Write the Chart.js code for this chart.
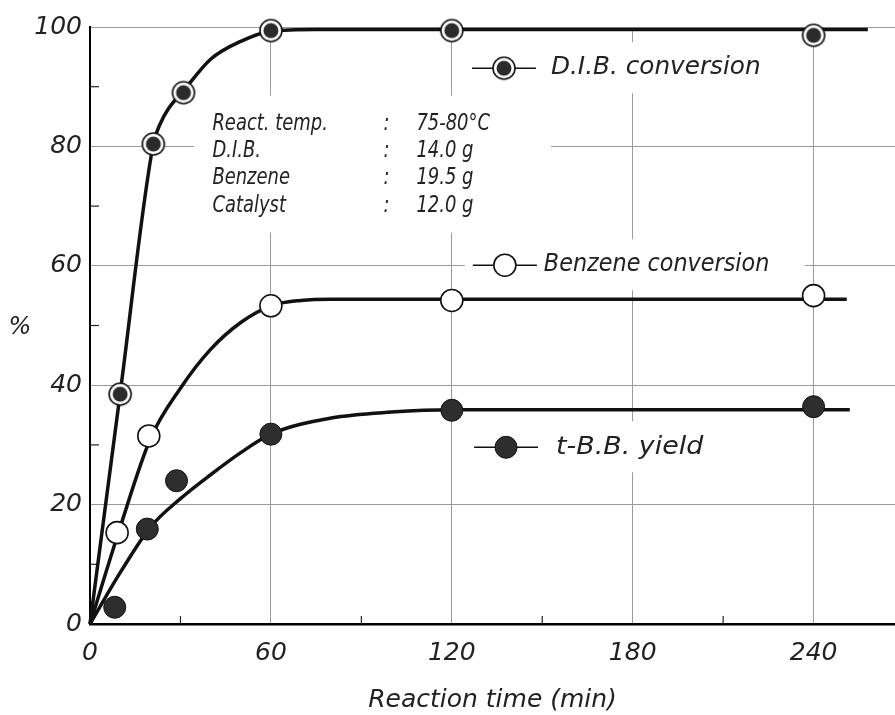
<!DOCTYPE html>
<html>
<head>
<meta charset="utf-8">
<script src="https://cdn.jsdelivr.net/npm/chart.js@4"></script>
<style>
  html, body { margin: 0; padding: 0; background: #fff; overflow: hidden; }
  #wrap { width: 895px; height: 715px; }
  canvas { display: block; }
</style>
</head>
<body>
<div id="wrap"><canvas id="rxnChart"></canvas></div>
<script>
// measured points (time in min, %)
const dibTime = [10, 21, 31, 60, 120, 240];
const dibConv = [38.5, 80.4, 89, 99.4, 99.4, 98.6];
const benTime = [9, 19.5, 60, 120, 240];
const benConv = [15.3, 31.5, 53.3, 54.2, 55];
const tbbTime = [8.2, 19, 28.7, 60, 120, 240];
const tbbYield = [2.8, 15.9, 24, 31.8, 35.8, 36.4];

// hand-drawn fitted curves
const dibCurveT = [0, 10, 21, 23.5, 26, 31, 40, 50, 60, 75, 258];
const dibCurveV = [0, 38.6, 80.4, 84, 86.3, 89.3, 94.6, 97.6, 99.3, 99.6, 99.6];
const benCurveT = [0, 10, 20, 30, 40, 50, 60, 70, 80, 251];
const benCurveV = [0, 16.2, 31, 39.5, 46, 50.5, 53.3, 54.2, 54.4, 54.4];
const tbbCurveT = [0, 10, 20, 30, 40, 50, 60, 80, 100, 120, 252];
const tbbCurveV = [0, 8.6, 16.2, 21, 25, 28.7, 31.8, 34.5, 35.5, 35.9, 35.9];

const xTicks = [0, 60, 120, 180, 240];
const yTicks = [0, 20, 40, 60, 80, 100];
const xMinor = [30, 90, 150, 210];
const yMinor = [10, 30, 50, 70, 90];

const seriesNames = ['D.I.B. conversion', 'Benzene conversion', 't-B.B. yield'];
const notes = [
  ['React. temp.', ':', '75-80°C'],
  ['D.I.B.', ':', '14.0 g'],
  ['Benzene', ':', '19.5 g'],
  ['Catalyst', ':', '12.0 g']
];

const FONT = "'DejaVu Sans', 'Liberation Sans', sans-serif";
const INK = '#222';

function pts(xs, ys) { return xs.map((x, i) => ({ x: x, y: ys[i] })); }

// double ring marker for D.I.B.
function ringMarker() {
  const c = document.createElement('canvas');
  c.width = c.height = 26;
  const g = c.getContext('2d');
  g.beginPath(); g.arc(13, 13, 11, 0, 2 * Math.PI);
  g.fillStyle = '#fff'; g.fill();
  g.lineWidth = 1.6; g.strokeStyle = '#111'; g.stroke();
  g.beginPath(); g.arc(13, 13, 7.5, 0, 2 * Math.PI);
  g.fillStyle = '#2b2b2b'; g.fill();
  return c;
}
const ring = ringMarker();

function drawMark(ctx, kind, x, y) {
  if (kind === 0) { ctx.drawImage(ring, x - 13, y - 13); return; }
  ctx.beginPath(); ctx.arc(x, y, 11, 0, 2 * Math.PI);
  ctx.fillStyle = kind === 1 ? '#fff' : '#2e2e2e';
  ctx.fill();
  ctx.lineWidth = kind === 1 ? 1.6 : 1;
  ctx.strokeStyle = '#111';
  ctx.stroke();
}

// where the in-plot legend / notes sit (data units)
const legendAt = [[137.3, 93.1], [137.6, 60.1], [138, 29.6]];
const notesAt = [40.6, 83.8];

const figureBits = {
  id: 'figureBits',
  beforeDatasetsDraw(chart) {
    const { ctx, scales: { x, y } } = chart;
    ctx.save();
    // white patches where the grid is broken by lettering
    ctx.fillStyle = '#fff';
    ctx.fillRect(x.getPixelForValue(34.5), y.getPixelForValue(88.5), 357, 137);
    legendAt.forEach((p, i) => {
      const w = [315, 340, 250][i];
      ctx.fillRect(x.getPixelForValue(p[0]) - 40, y.getPixelForValue(p[1]) - 26, w, 51);
    });
    // minor ticks
    ctx.strokeStyle = '#222';
    ctx.lineWidth = 1.2;
    xMinor.forEach(v => {
      const px = x.getPixelForValue(v);
      ctx.beginPath(); ctx.moveTo(px, y.bottom); ctx.lineTo(px, y.bottom - 8); ctx.stroke();
    });
    yMinor.forEach(v => {
      const py = y.getPixelForValue(v);
      ctx.beginPath(); ctx.moveTo(x.left, py); ctx.lineTo(x.left + 9, py); ctx.stroke();
    });
    ctx.restore();
  },
  afterDatasetsDraw(chart) {
    const { ctx, scales: { x, y } } = chart;
    ctx.save();
    ctx.fillStyle = INK;
    ctx.textBaseline = 'middle';
    // legend entries
    const stretch = [1.03, 0.93, 1.12];
    legendAt.forEach((p, i) => {
      const cx = x.getPixelForValue(p[0]);
      const cy = y.getPixelForValue(p[1]);
      ctx.strokeStyle = '#111'; ctx.lineWidth = 1.6;
      ctx.beginPath(); ctx.moveTo(cx - 32, cy); ctx.lineTo(cx + 32, cy); ctx.stroke();
      drawMark(ctx, i, cx, cy);
      ctx.fillStyle = INK;
      ctx.font = `italic 200 24px ${FONT}`;
      ctx.save();
      ctx.translate(cx + [47, 39, 50][i], cy);
      ctx.scale(stretch[i], 1);
      ctx.fillText(seriesNames[i], 0, 0);
      ctx.restore();
    });
    // reaction conditions
    const nx = x.getPixelForValue(notesAt[0]);
    const ny = y.getPixelForValue(notesAt[1]);
    ctx.font = `italic 200 23px ${FONT}`;
    notes.forEach((row, i) => {
      const ry = ny + i * 27.3;
      [[row[0], 0], [row[1], 171], [row[2], 204]].forEach(([t, dx]) => {
        ctx.save();
        ctx.translate(nx + dx, ry);
        ctx.scale(0.78, 1);
        ctx.fillText(t, 0, 0);
        ctx.restore();
      });
    });
    // y axis title, upright
    ctx.font = `italic 200 24px ${FONT}`;
    ctx.textAlign = 'center';
    ctx.fillText('%', x.left - 70, y.getPixelForValue(49.6));
    ctx.restore();
  }
};

const curveStyle = {
  type: 'line', showLine: true, pointRadius: 0, borderColor: '#111',
  borderWidth: 3.5, cubicInterpolationMode: 'monotone', fill: false, clip: false
};

new Chart(document.getElementById('rxnChart').getContext('2d'), {
  type: 'scatter',
  data: {
    datasets: [
      Object.assign({ label: 'dib fit', data: pts(dibCurveT, dibCurveV), order: 3 }, curveStyle),
      Object.assign({ label: 'ben fit', data: pts(benCurveT, benCurveV), order: 3 }, curveStyle),
      Object.assign({ label: 'tbb fit', data: pts(tbbCurveT, tbbCurveV), order: 3 }, curveStyle),
      { label: seriesNames[0], data: pts(dibTime, dibConv), pointStyle: ring, order: 1, clip: false },
      { label: seriesNames[1], data: pts(benTime, benConv), pointRadius: 11, backgroundColor: '#fff',
        borderColor: '#111', borderWidth: 1.6, order: 1, clip: false },
      { label: seriesNames[2], data: pts(tbbTime, tbbYield), pointRadius: 11, backgroundColor: '#2e2e2e',
        borderColor: '#111', borderWidth: 1, order: 1, clip: false }
    ]
  },
  options: {
    responsive: true,
    maintainAspectRatio: false,
    animation: false,
    events: [],
    layout: { autoPadding: false, padding: { top: 27, right: 0, left: 0, bottom: 0 } },
    plugins: { legend: { display: false }, tooltip: { enabled: false } },
    scales: {
      x: {
        type: 'linear', min: 0, max: 267,
        afterBuildTicks: s => { s.ticks = xTicks.map(v => ({ value: v })); },
        afterFit: s => { s.height = 91; s.paddingLeft = 0; s.paddingRight = 0; },
        grid: { color: '#9a9a9a', lineWidth: 1, drawTicks: false },
        border: { display: true, color: '#000', width: 2.5 },
        ticks: { color: INK, padding: 14, font: { family: FONT, size: 25, style: 'italic', weight: 200 } },
        title: { display: true, text: 'Reaction time (min)', color: INK, padding: { top: 0, bottom: 0 },
                 font: { family: FONT, size: 25, style: 'italic', weight: 200 } }
      },
      y: {
        type: 'linear', min: 0, max: 100,
        afterBuildTicks: s => { s.ticks = yTicks.map(v => ({ value: v })); },
        afterFit: s => { s.width = 90; },
        grid: { color: '#9a9a9a', lineWidth: 1, drawTicks: false },
        border: { display: true, color: '#000', width: 2 },
        ticks: { color: INK, padding: 8, font: { family: FONT, size: 25, style: 'italic', weight: 200 } }
      }
    }
  },
  plugins: [figureBits]
});
</script>
</body>
</html>
